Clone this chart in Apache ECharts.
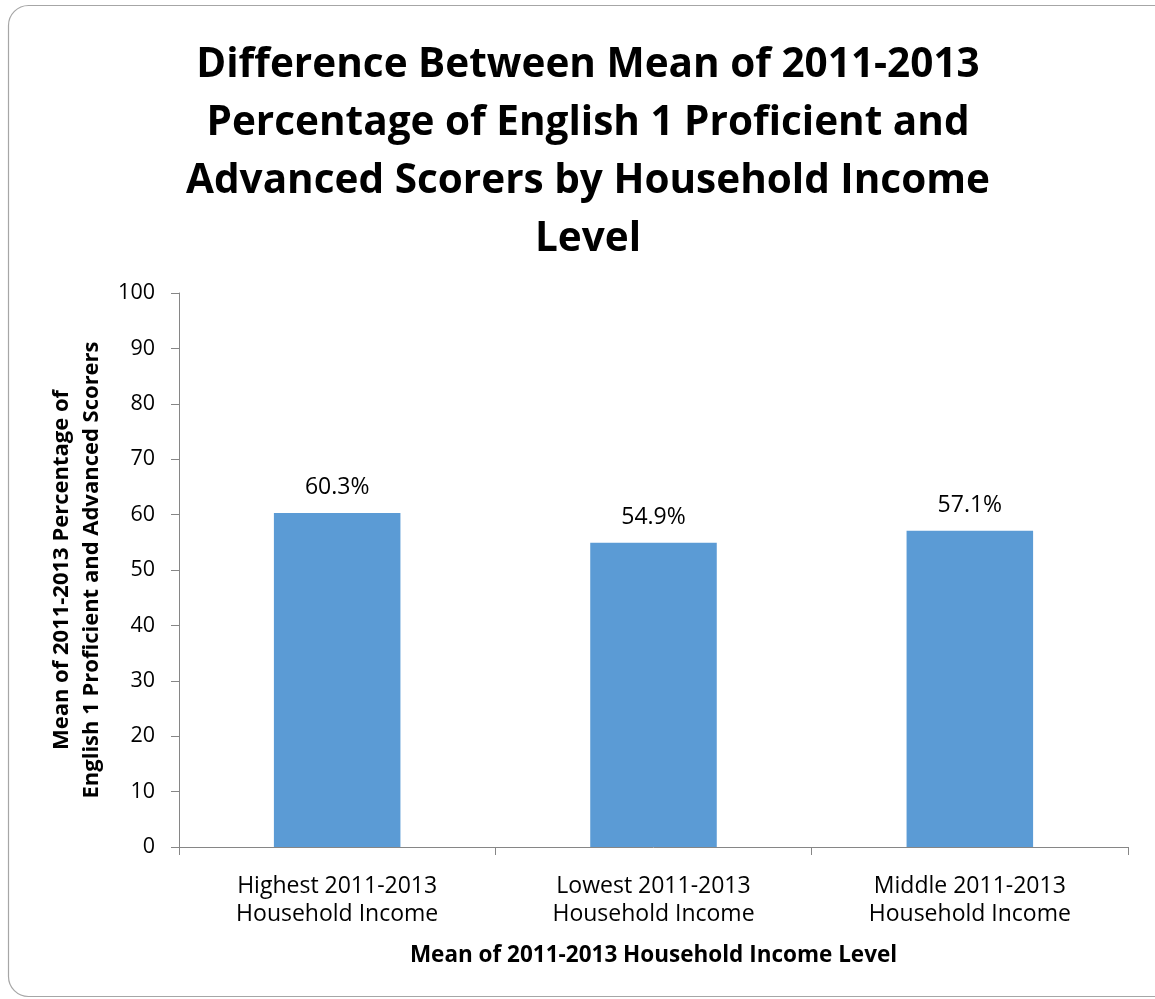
<!DOCTYPE html>
<html><head><meta charset="utf-8">
<script src="https://cdn.jsdelivr.net/npm/echarts@6/dist/echarts.min.js"></script>
<style>html,body{margin:0;padding:0;background:#fff}#c{width:1155px;height:999px}</style>
</head><body><div id="c"></div>
<script>
const titleText = "Difference Between Mean of 2011-2013\nPercentage of English 1 Proficient and\nAdvanced Scorers by Household Income\nLevel";
const categories = ["Highest 2011-2013\nHousehold Income", "Lowest 2011-2013\nHousehold Income", "Middle 2011-2013\nHousehold Income"];
const values = [60.3, 54.9, 57.1];
const yTitle = "Mean of 2011-2013 Percentage of\nEnglish 1 Proficient and Advanced Scorers";
const xTitle = "Mean of 2011-2013 Household Income Level";
const FONT = "Open Sans";
const chart = echarts.init(document.getElementById('c'), null, {renderer:'canvas'});
chart.setOption({
  animation:false,
  backgroundColor:'#fff',
  graphic:[
    {type:'rect',shape:{x:8.5,y:5.5,width:1170,height:991,r:20},style:{fill:'none',stroke:'#a6a6a6',lineWidth:1.2},z:-1},
    {type:'text',x:202,y:-2,style:{text:'ing',font:'24px "Liberation Serif"',fill:'#000',verticalAlign:'bottom'},z:-2}
  ],
  title:{text:titleText,left:583,textAlign:'center',top:31,textStyle:{fontFamily:FONT,fontWeight:'bold',fontSize:40.5,lineHeight:58,color:'#000'}},
  grid:{left:179,right:27,top:293,bottom:152,outerBoundsMode:'none',containLabel:false},
  xAxis:{type:'category',data:categories,
    name:xTitle,nameLocation:'middle',nameGap:97,nameTextStyle:{fontFamily:FONT,fontWeight:'bold',fontSize:22.5,color:'#000'},
    axisLine:{lineStyle:{color:'#868686',width:1}},
    axisTick:{show:true,length:8,lineStyle:{color:'#868686'}},
    axisLabel:{fontFamily:FONT,fontSize:23,color:'#000',lineHeight:28,margin:25}},
  yAxis:{type:'value',min:0,max:100,interval:10,
    name:yTitle,nameLocation:'middle',nameGap:67,nameRotate:90,nameTextStyle:{fontFamily:FONT,fontWeight:'bold',fontSize:22,lineHeight:30,color:'#000'},
    axisLine:{show:true,lineStyle:{color:'#868686',width:1}},
    axisTick:{show:true,length:8,lineStyle:{color:'#868686'}},
    splitLine:{show:false},
    axisLabel:{fontFamily:FONT,fontSize:21.5,color:'#000',margin:24}},
  series:[{type:'bar',data:values,barWidth:'40%',itemStyle:{color:'#5B9BD5'},
    label:{show:true,position:'top',distance:14,fontFamily:FONT,fontSize:23,color:'#000',formatter:p=>p.value.toFixed(1)+'%'}}]
});
</script></body></html>
